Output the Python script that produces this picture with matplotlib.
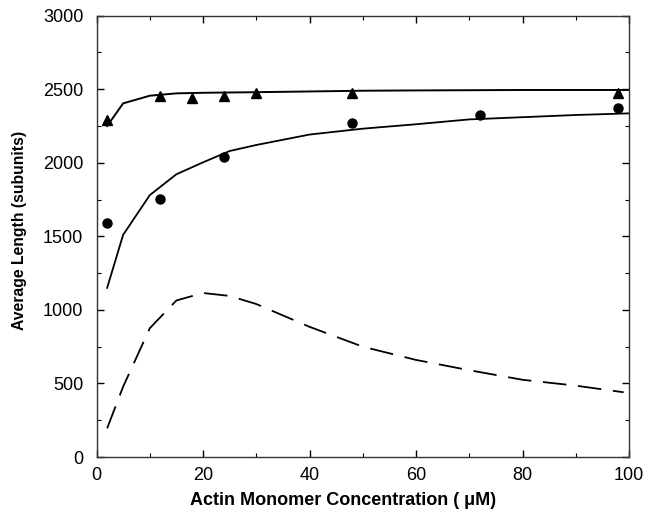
import matplotlib
matplotlib.use("Agg")
import matplotlib.pyplot as plt
from matplotlib.ticker import MultipleLocator

plt.rcParams['font.family'] = ['Liberation Sans', 'DejaVu Sans']

# Data points
tri_x = [2, 12, 18, 24, 30, 48, 98]
tri_y = [2290, 2456, 2438, 2456, 2472, 2476, 2476]
circ_x = [2, 12, 24, 48, 72, 98]
circ_y = [1589, 1754, 2037, 2268, 2325, 2375]

# Model curves
upper_x = [2, 5, 10, 15, 20, 30, 40, 50, 60, 80, 100]
upper_y = [2250, 2404, 2456, 2472, 2476, 2480, 2485, 2490, 2492, 2495, 2495]
lower_x = [2, 5, 10, 15, 20, 25, 30, 40, 50, 60, 70, 80, 90, 100]
lower_y = [1150, 1510, 1780, 1922, 2003, 2080, 2121, 2192, 2232, 2262, 2295, 2310, 2325, 2336]
dash_x = [2, 5, 10, 15, 20, 25, 30, 40, 50, 60, 70, 80, 90, 99]
dash_y = [195, 478, 875, 1064, 1115, 1095, 1040, 885, 750, 660, 590, 525, 485, 440]

fig = plt.figure(figsize=(6.45, 5.13), dpi=100)
ax = fig.add_axes([96.5/645, 1 - 457/513, (629-96.5)/645, (457-15.7)/513])

ax.plot(upper_x, upper_y, color='black', lw=1.4)
ax.plot(lower_x, lower_y, color='black', lw=1.3)
ax.plot(dash_x, dash_y, color='black', lw=1.3, dashes=(13, 6.5))
ax.plot(tri_x, tri_y, linestyle='none', marker='^', color='black', markersize=7.5)
ax.plot(circ_x, circ_y, linestyle='none', marker='o', color='black', markersize=6.5)

ax.set_xlim(0, 100)
ax.set_ylim(0, 3000)
ax.xaxis.set_major_locator(MultipleLocator(20))
ax.xaxis.set_minor_locator(MultipleLocator(10))
ax.yaxis.set_major_locator(MultipleLocator(500))
ax.yaxis.set_minor_locator(MultipleLocator(250))
ax.tick_params(which='both', direction='in', top=True, right=True, labelsize=13)
ax.tick_params(axis='x', which='major', pad=7.5)
ax.tick_params(axis='y', which='major', pad=9.5)
ax.tick_params(which='major', length=5, width=1)
ax.tick_params(which='minor', length=3, width=0.8)
for s in ax.spines.values():
    s.set_linewidth(1.0)
    s.set_color('#333333')

ax.set_xlabel('Actin Monomer Concentration ( \u03bcM)', fontsize=13, fontweight='bold')
ax.set_ylabel('Average Length (subunits)', fontsize=11.3, fontweight='bold')
ax.xaxis.set_label_coords(0.463, -0.08)
ax.yaxis.set_label_coords(-0.131, 0.514)

fig.savefig('out.png', dpi=100)
